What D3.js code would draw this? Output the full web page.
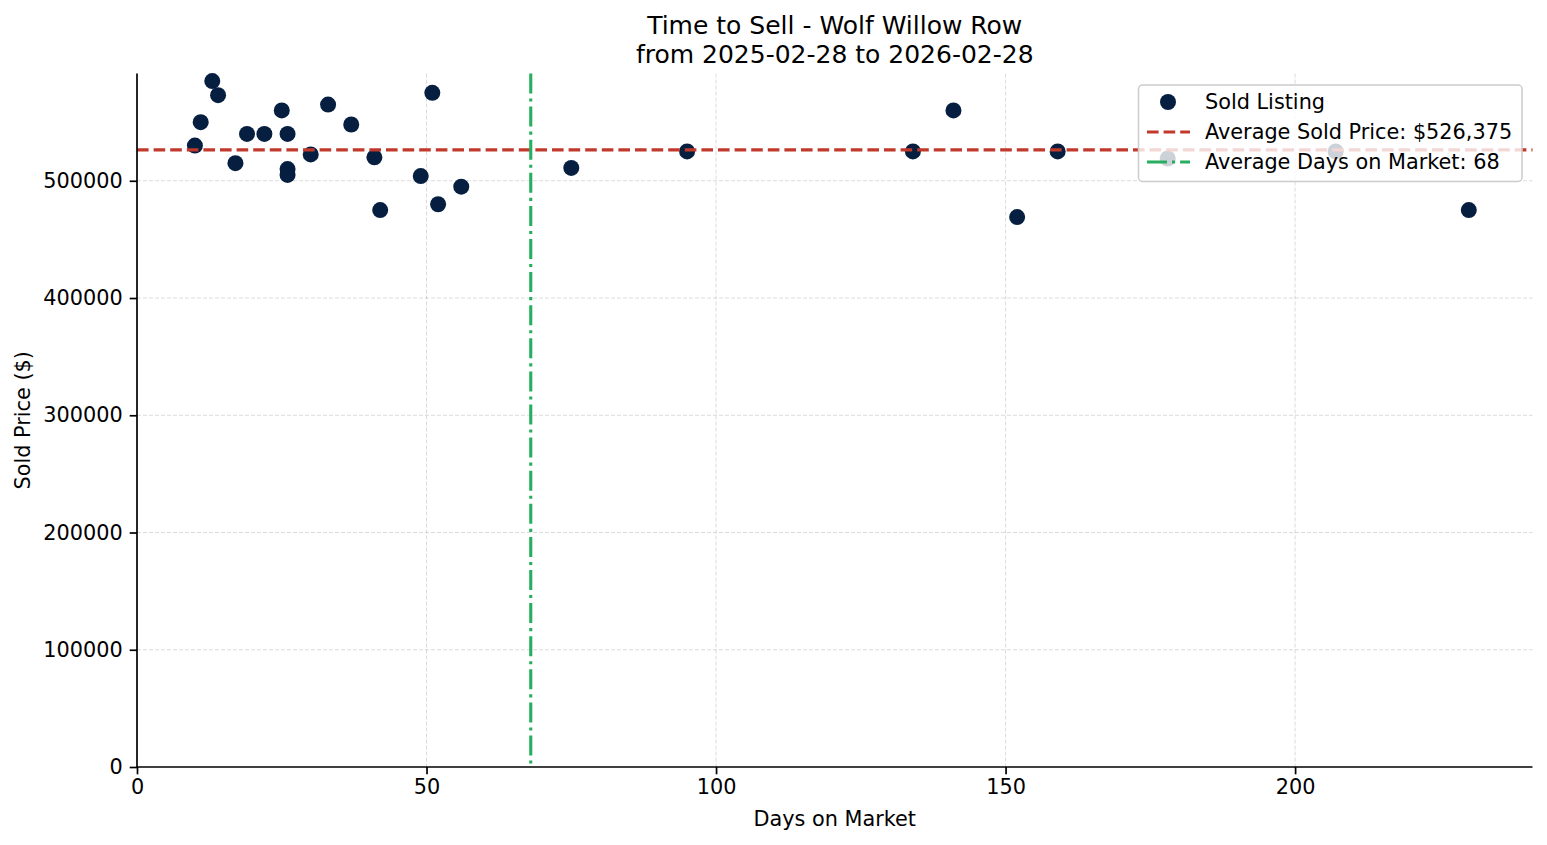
<!DOCTYPE html>
<html>
<head>
<meta charset="utf-8">
<script src="https://cdn.jsdelivr.net/npm/d3@7/dist/d3.min.js"></script>
<style>
  html, body { margin: 0; padding: 0; background: #fff; }
  svg { display: block; font-family: "DejaVu Sans", sans-serif; }
</style>
</head>
<body>
<svg id="chart" width="1547" height="845"></svg>
<script>
// ---- Data ----
const daysOnMarket = [10, 11, 13, 14, 17, 19, 22, 25, 26, 26, 26, 30, 33, 37, 41, 42, 49, 51, 52, 56, 75, 95, 134, 141, 152, 159, 178, 207, 230];
const soldPrices   = [530000, 550000, 585000, 573000, 515000, 540000, 540000, 560000, 540000, 510000, 505000, 522500, 565000, 548000, 520000, 475000, 504000, 575000, 480000, 495000, 511000, 525000, 525000, 560000, 469000, 525000, 519000, 525000, 475000];
const avgSoldPrice = 526375;
const avgDays = 68;
const xTicks = [0, 50, 100, 150, 200];
const yTicks = [0, 100000, 200000, 300000, 400000, 500000];
const titleLines = ["Time to Sell - Wolf Willow Row", "from 2025-02-28 to 2026-02-28"];
const legendLabels = ["Sold Listing", "Average Sold Price: $526,375", "Average Days on Market: 68"];

// ---- Layout ----
const W = 1547, H = 845;
const m = { left: 137, right: W - 1532.5, top: 73.5, bottom: H - 767 };
const iw = W - m.left - m.right, ih = H - m.top - m.bottom;

const colPoint = "#061f40", colRed = "#c0392b", colGreen = "#27ae60";

const svg = d3.select("#chart");
const g = svg.append("g").attr("transform", `translate(${m.left},${m.top})`);

const x = d3.scaleLinear().domain([0, 241]).range([0, iw]);
const y = d3.scaleLinear().domain([0, 591500]).range([ih, 0]);

// grid
g.append("g").selectAll("line").data(xTicks.filter(d => d > 0)).join("line")
  .attr("x1", d => x(d)).attr("x2", d => x(d)).attr("y1", 0).attr("y2", ih)
  .attr("stroke", "#b0b0b0").attr("stroke-opacity", 0.5).attr("stroke-width", 0.9)
  .attr("stroke-dasharray", "4,2");
g.append("g").selectAll("line").data(yTicks.filter(d => d > 0)).join("line")
  .attr("x1", 0).attr("x2", iw).attr("y1", d => y(d)).attr("y2", d => y(d))
  .attr("stroke", "#b0b0b0").attr("stroke-opacity", 0.5).attr("stroke-width", 0.9)
  .attr("stroke-dasharray", "4,2");

// points
const pts = daysOnMarket.map((d, i) => ({ d, p: soldPrices[i] }));
g.append("g").selectAll("circle").data(pts).join("circle")
  .attr("cx", d => x(d.d)).attr("cy", d => y(d.p)).attr("r", 8)
  .attr("fill", colPoint);

// average lines
g.append("line").attr("x1", 0).attr("x2", iw)
  .attr("y1", y(avgSoldPrice)).attr("y2", y(avgSoldPrice))
  .attr("stroke", colRed).attr("stroke-width", 3.1).attr("stroke-dasharray", "11.6,5");
g.append("line").attr("x1", x(avgDays)).attr("x2", x(avgDays))
  .attr("y1", 0).attr("y2", ih)
  .attr("stroke", colGreen).attr("stroke-width", 3.1).attr("stroke-dasharray", "20,5,3.1,5");

// axes
const xAxis = d3.axisBottom(x).tickValues(xTicks).tickSize(7.3).tickPadding(5).tickFormat(d3.format("d"));
const yAxis = d3.axisLeft(y).tickValues(yTicks).tickSize(7.3).tickPadding(7).tickFormat(d3.format("d"));
const gx = g.append("g").attr("transform", `translate(0,${ih})`).call(xAxis);
const gy = g.append("g").call(yAxis);
[gx, gy].forEach(a => {
  a.select(".domain").attr("stroke", "#000").attr("stroke-width", 1.7);
  a.selectAll(".tick line").attr("stroke", "#000").attr("stroke-width", 1.7);
  a.selectAll(".tick text").attr("fill", "#000").style("font-size", "20.8px").style("font-family", "DejaVu Sans");
});
gx.select(".domain").attr("d", `M0,0H${iw}`);
gy.select(".domain").attr("d", `M0,${ih}V0`);

// axis labels
svg.append("text").attr("x", m.left + iw / 2).attr("y", 826)
  .attr("text-anchor", "middle").style("font-size", "20.8px").text("Days on Market");
svg.append("text").attr("transform", `translate(30,${m.top + ih / 2}) rotate(-90)`)
  .attr("text-anchor", "middle").style("font-size", "20.8px").text("Sold Price ($)");

// title
svg.append("g").selectAll("text").data(titleLines).join("text")
  .attr("x", m.left + iw / 2).attr("y", (d, i) => 34 + i * 28.5)
  .attr("text-anchor", "middle").style("font-size", "25px").attr("fill", "#000").text(d => d);

// legend
const lg = svg.append("g").attr("transform", "translate(1138.5,85)");
lg.append("rect").attr("width", 383.5).attr("height", 96.5).attr("rx", 4)
  .attr("fill", "#fff").attr("fill-opacity", 0.8)
  .attr("stroke", "#cccccc").attr("stroke-width", 1.5);
const rows = [102, 132, 162].map(v => v - 85);
lg.append("circle").attr("cx", 29.5).attr("cy", rows[0]).attr("r", 8).attr("fill", colPoint);
lg.append("line").attr("x1", 8.5).attr("x2", 51.5).attr("y1", rows[1]).attr("y2", rows[1])
  .attr("stroke", colRed).attr("stroke-width", 3.1).attr("stroke-dasharray", "11.6,5");
lg.append("line").attr("x1", 8.5).attr("x2", 51.5).attr("y1", rows[2]).attr("y2", rows[2])
  .attr("stroke", colGreen).attr("stroke-width", 3.1).attr("stroke-dasharray", "20,5,3.1,5");
lg.selectAll("text.lab").data(legendLabels).join("text").attr("class", "lab")
  .attr("x", 66.5).attr("y", (d, i) => rows[i]).attr("dy", "0.36em")
  .style("font-size", "20.8px").attr("fill", "#000").text(d => d);
</script>
</body>
</html>
